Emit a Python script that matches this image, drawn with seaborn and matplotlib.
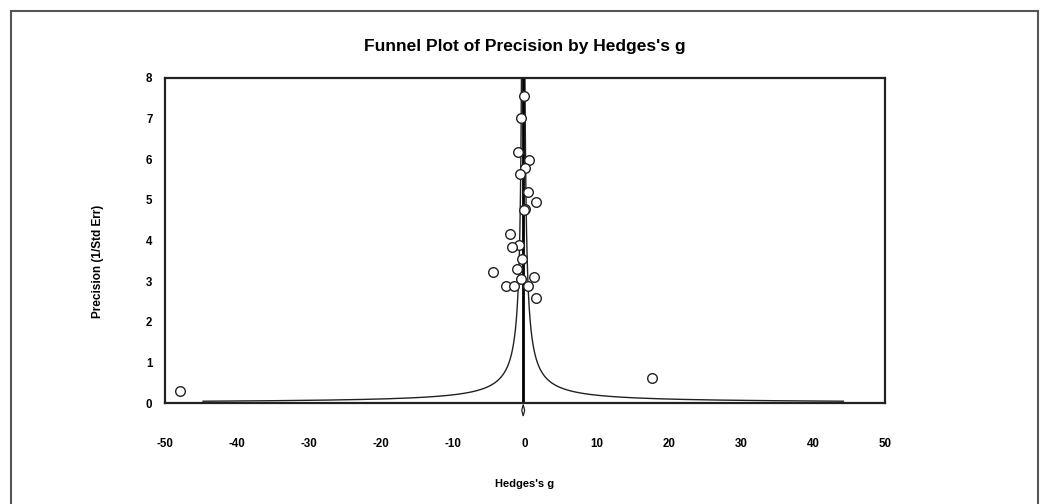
import numpy as np
import matplotlib
matplotlib.use("Agg")
import matplotlib.pyplot as plt
import seaborn as sns
import pandas as pd
from matplotlib.patches import Rectangle, Polygon

# ---- data ----
hedges_g = [-0.1, -0.55, -1.0, 0.55, 0.0, -0.7, 0.4, 1.5, 0.0, -0.2,
            -2.1, -0.8, -1.8, -0.4, -1.1, -4.4, 1.2, -0.55, -2.6, -1.5,
            0.4, 1.5, -47.9, 17.6]
precision = [7.56, 7.02, 6.18, 5.99, 5.79, 5.64, 5.20, 4.95, 4.78, 4.76,
             4.16, 3.89, 3.84, 3.55, 3.30, 3.22, 3.10, 3.05, 2.88, 2.88,
             2.88, 2.59, 0.30, 0.62]
summary_g = -0.25
summary_lo = -0.45
summary_hi = -0.05
x_ticks = [-50, -40, -30, -20, -10, 0, 10, 20, 30, 40, 50]
y_ticks = [0, 1, 2, 3, 4, 5, 6, 7, 8]

df = pd.DataFrame({"g": hedges_g, "prec": precision})

sns.set_theme(style="white")
plt.rcParams['font.family'] = ['Liberation Sans', 'DejaVu Sans']
plt.rcParams['axes.unicode_minus'] = False
plt.rcParams['text.color'] = 'black'
plt.rcParams['axes.labelcolor'] = 'black'
plt.rcParams['xtick.color'] = 'black'
plt.rcParams['ytick.color'] = 'black'

fig = plt.figure(figsize=(10.45, 5.04), dpi=100)
ax = fig.add_axes([165/1045, 1-403/504, (885-165)/1045, (403-78)/504])

# funnel (pseudo 95% limits)
pp = np.linspace(1.96/44.5, 8, 2000)
ax.plot(summary_g - 1.96/pp, pp, color="#222222", lw=1.0, zorder=2)
ax.plot(summary_g + 1.96/pp, pp, color="#222222", lw=1.0, zorder=2)
ax.axvline(summary_g, color="black", lw=2.0, zorder=2)

sns.scatterplot(data=df, x="g", y="prec", ax=ax, marker="o", s=48,
                facecolor="white", edgecolor="#222222", linewidth=1.0, zorder=3)

# summary diamond below the axis
yc, hh = -0.18, 0.14
diamond = Polygon([[summary_lo, yc], [summary_g, yc+hh], [summary_hi, yc], [summary_g, yc-hh]],
                  closed=True, facecolor="white", edgecolor="#222222", lw=0.9, clip_on=False, zorder=4)
ax.add_patch(diamond)

ax.set_xlim(-50, 50)
ax.set_ylim(0, 8)
ax.set_xticks(x_ticks)
ax.set_yticks(y_ticks)
ax.tick_params(axis="x", length=0, pad=25, labelsize=8.3)
ax.tick_params(axis="y", length=0, pad=9, labelsize=8.3)
for lab in ax.get_xticklabels() + ax.get_yticklabels():
    lab.set_fontweight("bold")
for s in ax.spines.values():
    s.set_color("#222222")
    s.set_linewidth(1.6)

ax.set_xlabel("Hedges's g", fontsize=8, fontweight="bold", labelpad=21)
ax.set_ylabel("Precision (1/Std Err)", fontsize=8.5, fontweight="bold")
ax.yaxis.set_label_coords((104 - 165) / 720, (403 - 261) / 325)
fig.text(525/1045, 1-47/504, "Funnel Plot of Precision by Hedges's g", ha="center", va="center",
         fontsize=12.5, fontweight="bold")

# outer frame
fig.patches.append(Rectangle((11/1045, -0.05), (1038-11)/1045, 1.05-11/504, transform=fig.transFigure,
                             fill=False, edgecolor="#555555", lw=1.5))

fig.savefig("out.png", dpi=100)
